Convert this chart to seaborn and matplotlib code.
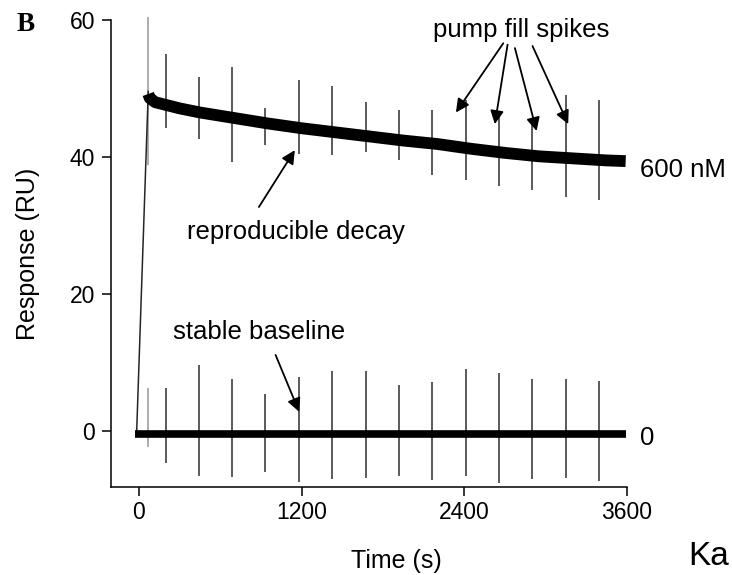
import numpy as np
import pandas as pd
import seaborn as sns
import matplotlib.pyplot as plt

# 600 nM trace: association rise, then the dissociation decay (time in s, response in RU)
rise_time = [-17, 69]
rise_resp = [-0.4, 49.6]
decay_time = [69, 80, 120, 180, 300, 450, 700, 950, 1200, 1450, 1700, 1950, 2200, 2450, 2700, 2950, 3200, 3450, 3590]
decay_resp = [49.2, 48.6, 48.0, 47.7, 47.1, 46.5, 45.7, 44.9, 44.2, 43.6, 43.0, 42.4, 41.9, 41.2, 40.6, 40.1, 39.8, 39.5, 39.4]

# 0 nM trace
base_time = [-30, 600, 1200, 1800, 2400, 3000, 3590]
base_resp = [-0.5, -0.5, -0.5, -0.5, -0.5, -0.5, -0.5]

# pump fill spikes: time, top and bottom of each spike
spike_time = [69, 197, 442, 688, 929, 1180, 1427, 1672, 1918, 2165, 2410, 2656, 2902, 3150, 3393]
spike_top_600 = [60.5, 55.1, 51.7, 53.2, 47.1, 51.2, 50.3, 48.1, 46.9, 46.9, 48.3, 46.5, 45.4, 49.1, 48.3]
spike_bot_600 = [38.8, 44.2, 42.6, 39.2, 41.8, 40.5, 40.3, 40.8, 39.6, 37.4, 36.6, 35.7, 35.2, 34.2, 33.7]
spike_top_0 = [6.3, 6.3, 9.6, 7.6, 5.4, 7.9, 8.8, 8.7, 6.7, 7.1, 9.0, 8.5, 7.6, 7.6, 7.3]
spike_bot_0 = [-2.3, -4.7, -6.6, -6.7, -6.0, -7.4, -7.0, -6.9, -6.6, -7.2, -6.6, -7.6, -7.0, -6.9, -7.3]

x_ticks = [0, 1200, 2400, 3600]
y_ticks = [0, 20, 40, 60]

sns.set_style('ticks')
plt.rcParams['font.family'] = ['Liberation Sans', 'DejaVu Sans']
plt.rcParams['text.color'] = 'black'
plt.rcParams['axes.labelcolor'] = 'black'

fig, ax = plt.subplots(figsize=(7.32, 5.75), dpi=100)
fig.subplots_adjust(left=0.1516, right=0.8566, bottom=0.1522, top=0.9652)

# spikes first, the traces go on top
spike_colors = ['0.65'] + ['0.3'] * (len(spike_time) - 1)
ax.vlines(spike_time, spike_bot_600, spike_top_600, colors=spike_colors, lw=1.3, zorder=1, clip_on=False)
ax.vlines(spike_time, spike_bot_0, spike_top_0, colors=spike_colors, lw=1.3, zorder=1)

sns.lineplot(x=rise_time, y=rise_resp, color='0.15', lw=1.1, ax=ax, zorder=2)
sns.lineplot(x=decay_time, y=decay_resp, color='black', lw=8.5, ax=ax, zorder=3, solid_capstyle='butt')
sns.lineplot(x=base_time, y=base_resp, color='black', lw=5.5, ax=ax, zorder=3, solid_capstyle='butt')

ax.set_xlim(-206, 3600)
ax.set_ylim(-8.25, 60)
ax.set_xticks(x_ticks)
ax.set_yticks(y_ticks)
ax.tick_params(direction='out', length=6.5, width=1.1, labelsize=16.5, colors='black')
ax.tick_params(axis='x', pad=3.5)
ax.tick_params(axis='y', pad=5)
sns.despine(ax=ax)
for s in ['left', 'bottom']:
    ax.spines[s].set_linewidth(1.1)
    ax.spines[s].set_color('black')

ax.set_xlabel('Time (s)', fontsize=18)
ax.set_ylabel('Response (RU)', fontsize=18)
ax.xaxis.set_label_coords(0.554, -0.132)
ax.yaxis.set_label_coords(-0.1376, 0.5)

# annotations
arrow = dict(arrowstyle='-|>', color='black', lw=1.3, mutation_scale=20, shrinkA=0, shrinkB=0)
ax.text(2168, 57.5, 'pump fill spikes', fontsize=18.5, va='baseline')
for start, tip in [((2687, 56.6), (2338, 46.5)), ((2719, 56.4), (2625, 44.8)),
                   ((2773, 55.9), (2933, 43.8)), ((2903, 56.2), (3166, 44.8))]:
    ax.annotate('', xy=tip, xytext=start, arrowprops=arrow)

ax.text(352, 28.0, 'reproducible decay', fontsize=18.5, va='baseline')
ax.annotate('', xy=(1150, 41.0), xytext=(885, 32.7), arrowprops=arrow)

ax.text(253, 13.4, 'stable baseline', fontsize=18.5, va='baseline')
ax.annotate('', xy=(1182, 2.8), xytext=(1008, 11.1), arrowprops=arrow)

ax.text(3695, 37.1, '600 nM', fontsize=18.5, va='baseline')
ax.text(3695, -2.0, '0', fontsize=18.5, va='baseline')

fig.text(17 / 732, 1 - 31 / 575, 'B', fontsize=19.5, fontweight='bold', family='Liberation Serif', va='baseline')
fig.text(688 / 732, 3 / 575, 'Ka', fontsize=24, va='bottom')

plt.savefig('out.png', dpi=100)
plt.close('all')
